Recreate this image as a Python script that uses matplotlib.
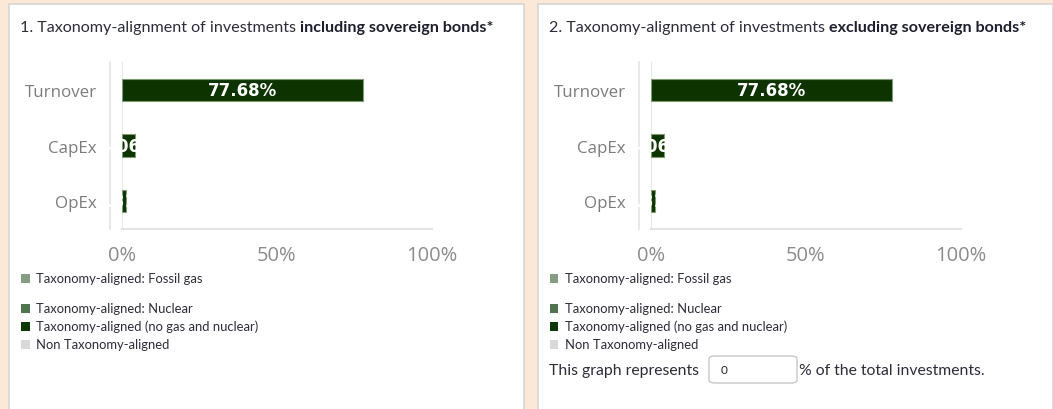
import matplotlib.pyplot as plt
from matplotlib.patches import Rectangle, FancyBboxPatch

# Datos de alineación con la taxonomía (%)
categories = ['Turnover', 'CapEx', 'OpEx']
aligned_incl_sovereign = [77.68, 4.06, 1.31]
aligned_excl_sovereign = [77.68, 4.06, 1.31]
x_ticks = [0, 50, 100]
x_tick_labels = ['0%', '50%', '100%']

titles = [('1. Taxonomy-alignment of investments', 'including sovereign bonds*'),
          ('2. Taxonomy-alignment of investments', 'excluding sovereign bonds*')]
legend_labels = ['Taxonomy-aligned: Fossil gas',
                 'Taxonomy-aligned: Nuclear',
                 'Taxonomy-aligned (no gas and nuclear)',
                 'Non Taxonomy-aligned']
legend_colors = ['#869d85', '#4e7450', '#0c3806', '#d9d9d9']
share_of_total = '0'

W, H = 1053, 410
fig = plt.figure(figsize=(W / 100, H / 100), dpi=100)
fig.patch.set_facecolor('#fbe8d6')
renderer = fig.canvas.get_renderer()

TEXT_FONT = 'Lato'
AXIS_FONT = 'Open Sans'
DARK = '#2c2c3a'
GRID = '#e4e4e4'


def fx(x):
    return x / W


def fy(y):
    return 1 - y / H


def panel(dx, values, title):
    # tarjeta blanca
    fig.add_artist(Rectangle((fx(9 + dx), fy(420)), fx(515), (420 - 5) / H,
                             transform=fig.transFigure, facecolor='white',
                             edgecolor='#d6d6d6', linewidth=1.2, zorder=0))

    # título con la parte final en negrita
    t1 = fig.text(fx(20 + dx), fy(28), title[0] + ' ', fontsize=11.6,
                  family=TEXT_FONT, color=DARK, va='center')
    bb = t1.get_window_extent(renderer=renderer)
    fig.text(bb.x1 / W, fy(28), title[1], fontsize=11.6,
             family=TEXT_FONT, weight='bold', color='#1e1e2c', va='center')

    ax = fig.add_axes([fx(122 + dx), fy(230), fx(310), 167 / H])
    ax.set_facecolor('none')
    ax.axvline(0, color=GRID, linewidth=1.2, zorder=0)
    bars = ax.barh(range(len(categories)), values, height=0.4, color='#0c3300',
                   edgecolor='#7f9b73', linewidth=0.8, zorder=2)
    ax.bar_label(bars, labels=[f'{v:.2f}%' for v in values], label_type='center',
                 color='white', weight='bold', fontsize=12, family='DejaVu Sans')

    ax.set_xlim(0, 100)
    ax.set_ylim(len(categories) - 0.5, -0.5)
    ax.set_xticks(x_ticks, x_tick_labels)
    ax.set_yticks(range(len(categories)), categories)
    ax.tick_params(axis='x', length=0, pad=11.5, labelcolor='#8c8c8c',
                   labelsize=14.5, labelfontfamily=AXIS_FONT)
    ax.tick_params(axis='y', length=0, pad=9.5, labelcolor='#7c7c7c',
                   labelsize=12.2, labelfontfamily=AXIS_FONT)
    for s in ['top', 'right']:
        ax.spines[s].set_visible(False)
    ax.spines['bottom'].set_color(GRID)
    ax.spines['bottom'].set_linewidth(1.5)
    ax.spines['left'].set_color(GRID)
    ax.spines['left'].set_linewidth(1.2)
    ax.spines['left'].set_position(('outward', 8.6))

    # leyenda
    for yy, lab, col in zip([279, 309, 327, 345], legend_labels, legend_colors):
        fig.add_artist(Rectangle((fx(21 + dx), fy(yy + 4.5)), fx(8.5), 8.5 / H,
                                 transform=fig.transFigure, facecolor=col,
                                 edgecolor='none'))
        fig.text(fx(36 + dx), fy(yy), lab, fontsize=9.4, family=TEXT_FONT,
                 color=DARK, va='center')
    return ax


panel(0, aligned_incl_sovereign, titles[0])
panel(529, aligned_excl_sovereign, titles[1])

# porcentaje del total de inversiones
fig.text(fx(549), fy(371), 'This graph represents', fontsize=11.3,
         family=TEXT_FONT, color=DARK, va='center')
fig.add_artist(FancyBboxPatch((fx(709), fy(384)), fx(88), 27 / H,
                              boxstyle='round,pad=0,rounding_size=0.006',
                              transform=fig.transFigure, facecolor='white',
                              edgecolor='#c8c8c8', linewidth=1.0))
fig.text(fx(721), fy(371), share_of_total, fontsize=8.5, family=TEXT_FONT,
         color='#222222', va='center')
fig.text(fx(799), fy(371), '% of the total investments.', fontsize=11.3,
         family=TEXT_FONT, color=DARK, va='center')

fig.savefig('out.png', dpi=100, facecolor=fig.get_facecolor())
